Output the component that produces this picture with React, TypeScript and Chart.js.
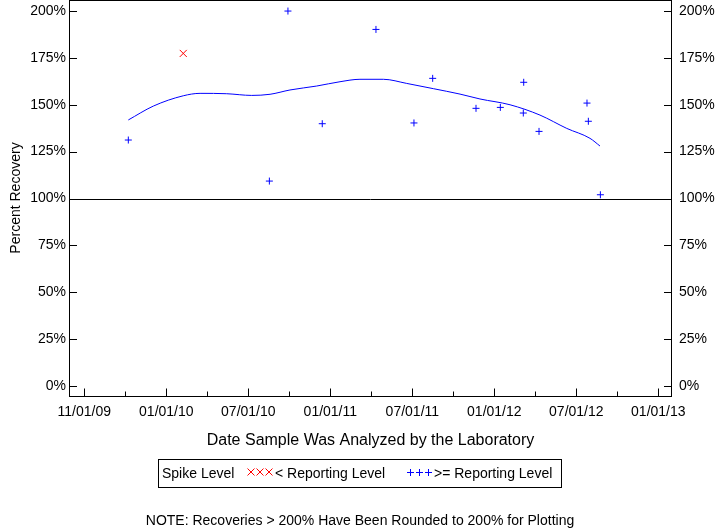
import React, { useEffect, useRef } from 'react';
import { Chart, registerables } from 'chart.js';

Chart.register(...registerables);

// x values are months counted from the first labelled tick
const xTickMonths = [0, 6, 12, 18, 24, 30, 36, 42];
const xTickLabels = ['11/01/09', '01/01/10', '07/01/10', '01/01/11', '07/01/11', '01/01/12', '07/01/12', '01/01/13'];
const xMinorMonths = [3, 9, 15, 21, 27, 33, 39];
const yTicks = [0, 25, 50, 75, 100, 125, 150, 175, 200];

const belowMonths = [7.24];
const belowValues = [177.4];

const aboveMonths = [3.22, 13.54, 14.9, 17.41, 21.34, 24.12, 25.49, 28.66, 30.44, 32.15, 32.12, 33.27, 36.78, 36.88, 37.76];
const aboveValues = [131.2, 109.3, 200, 139.9, 190.2, 140.3, 164.1, 148.1, 148.6, 162.0, 145.6, 135.8, 150.9, 141.2, 102.0];

const trendMonths = [3.22, 5.05, 7.24, 8.47, 10.42, 12.25, 13.59, 15.05, 17.0, 18.71, 20.17, 21.88, 23.59, 25.54, 27.49, 28.95, 31.15, 33.34, 35.3, 37.0, 37.73];
const trendValues = [141.9, 149.3, 154.8, 156.1, 155.9, 155.0, 155.6, 157.9, 160.0, 162.3, 163.6, 163.6, 161.4, 158.6, 155.7, 153.1, 150.0, 144.5, 137.4, 132.1, 128.0];

const FONT = '"Liberation Sans", Arial, sans-serif';

const zeroPad = (s: any) => {
  s.paddingTop = 0;
  s.paddingBottom = 0;
  s.paddingLeft = 0;
  s.paddingRight = 0;
};

const decorPlugin = {
  id: 'decor',
  afterDraw(chart: any) {
    const ctx = chart.ctx as CanvasRenderingContext2D;
    const { left, right, top, bottom } = chart.chartArea;
    const xs = chart.scales.x;
    const ys = chart.scales.y;
    ctx.save();
    ctx.strokeStyle = '#000';
    ctx.lineWidth = 1;
    // frame
    ctx.strokeRect(Math.round(left) + 0.5, Math.round(top) + 0.5, Math.round(right - left) - 1, Math.round(bottom - top) - 1);
    // 100% line
    const y100 = Math.round(ys.getPixelForValue(100)) + 0.5;
    ctx.beginPath();
    ctx.moveTo(left, y100);
    ctx.lineTo(right, y100);
    ctx.stroke();
    // inward ticks
    ctx.beginPath();
    const bl = Math.round(bottom) - 0.5;
    xTickMonths.forEach((m) => {
      const px = Math.round(xs.getPixelForValue(m)) + 0.5;
      ctx.moveTo(px, bl);
      ctx.lineTo(px, bl - 8);
    });
    xMinorMonths.forEach((m) => {
      const px = Math.round(xs.getPixelForValue(m)) + 0.5;
      ctx.moveTo(px, bl);
      ctx.lineTo(px, bl - 5);
    });
    yTicks.forEach((v) => {
      const py = Math.round(ys.getPixelForValue(v)) + 0.5;
      ctx.moveTo(left, py);
      ctx.lineTo(left + 8, py);
      ctx.moveTo(right, py);
      ctx.lineTo(right - 8, py);
    });
    ctx.stroke();

    // axis titles
    ctx.fillStyle = '#000';
    ctx.font = `16px ${FONT}`;
    ctx.textAlign = 'center';
    ctx.textBaseline = 'middle';
    ctx.fillText('Date Sample Was Analyzed by the Laboratory', (left + right) / 2, 441);
    ctx.save();
    ctx.translate(16, 198);
    ctx.rotate(-Math.PI / 2);
    ctx.font = `14px ${FONT}`;
    ctx.fillText('Percent Recovery', 0, 0);
    ctx.restore();

    // legend
    ctx.strokeRect(158.5, 459.5, 403, 28);
    ctx.font = `14px ${FONT}`;
    ctx.textAlign = 'left';
    ctx.fillStyle = '#000';
    ctx.fillText('Spike Level', 162, 474);
    ctx.fillText('< Reporting Level', 275, 474);
    ctx.fillText('>= Reporting Level', 434, 474);
    ctx.strokeStyle = '#FF0000';
    ctx.beginPath();
    [251, 260, 269].forEach((cx) => {
      ctx.moveTo(cx - 3.5, 468.5);
      ctx.lineTo(cx + 3.5, 475.5);
      ctx.moveTo(cx - 3.5, 475.5);
      ctx.lineTo(cx + 3.5, 468.5);
    });
    ctx.stroke();
    ctx.strokeStyle = '#0000FF';
    ctx.beginPath();
    [410.5, 419.5, 428.5].forEach((cx) => {
      ctx.moveTo(cx - 3.5, 472.5);
      ctx.lineTo(cx + 3.5, 472.5);
      ctx.moveTo(cx, 469);
      ctx.lineTo(cx, 476);
    });
    ctx.stroke();

    // note
    ctx.fillStyle = '#000';
    ctx.textAlign = 'center';
    ctx.fillText('NOTE: Recoveries > 200% Have Been Rounded to 200% for Plotting', 360, 521);
    ctx.restore();
  },
};

export default function App() {
  const ref = useRef<HTMLCanvasElement | null>(null);
  useEffect(() => {
    if (!ref.current) return;
    const chart = new Chart(ref.current, {
      type: 'scatter',
      data: {
        datasets: [
          {
            label: 'Trend',
            type: 'line',
            data: trendMonths.map((m, i) => ({ x: m, y: trendValues[i] })),
            borderColor: '#0000FF',
            borderWidth: 1,
            pointRadius: 0,
            cubicInterpolationMode: 'monotone',
            fill: false,
          },
          {
            label: '< Reporting Level',
            data: belowMonths.map((m, i) => ({ x: m, y: belowValues[i] })),
            pointStyle: 'crossRot',
            pointRadius: 5,
            borderColor: '#FF0000',
            borderWidth: 1,
          },
          {
            label: '>= Reporting Level',
            data: aboveMonths.map((m, i) => ({ x: m, y: aboveValues[i] })),
            pointStyle: 'cross',
            pointRadius: 3.5,
            borderColor: '#0000FF',
            borderWidth: 1,
          },
        ],
      } as any,
      options: {
        animation: false,
        responsive: false,
        maintainAspectRatio: false,
        layout: { autoPadding: false, padding: 0 },
        plugins: { legend: { display: false }, tooltip: { enabled: false } },
        scales: {
          x: {
            type: 'linear',
            position: 'bottom',
            min: -1.12,
            max: 43.0,
            afterFit: (s: any) => { s.height = 131; zeroPad(s); },
            afterBuildTicks: (s: any) => { s.ticks = xTickMonths.map((v) => ({ value: v })); },
            grid: { display: false, drawTicks: false },
            border: { display: false },
            ticks: {
              autoSkip: false,
              maxRotation: 0,
              padding: 7,
              color: '#000',
              font: { family: FONT, size: 14 },
              callback: (v: any) => { const i = xTickMonths.indexOf(Number(v)); return i >= 0 ? xTickLabels[i] : ''; },
            },
          },
          y: {
            type: 'linear',
            position: 'left',
            min: -5.9,
            max: 205.9,
            afterFit: (s: any) => { s.width = 69; zeroPad(s); },
            afterBuildTicks: (s: any) => { s.ticks = yTicks.map((v) => ({ value: v })); },
            grid: { display: false, drawTicks: false },
            border: { display: false },
            ticks: { padding: 3, color: '#000', font: { family: FONT, size: 14 }, callback: (v: any) => `${v}%` },
          },
          y2: {
            type: 'linear',
            position: 'right',
            min: -5.9,
            max: 205.9,
            afterFit: (s: any) => { s.width = 48; zeroPad(s); },
            afterBuildTicks: (s: any) => { s.ticks = yTicks.map((v) => ({ value: v })); },
            grid: { display: false, drawTicks: false },
            border: { display: false },
            ticks: { padding: 7, color: '#000', font: { family: FONT, size: 14 }, callback: (v: any) => `${v}%` },
          },
        },
      } as any,
      plugins: [decorPlugin],
    });
    return () => chart.destroy();
  }, []);
  return (
    <div style={{ position: 'absolute', left: 0, top: 0, width: 720, height: 528, background: '#fff' }}>
      <canvas ref={ref} width={720} height={528} style={{ display: 'block', width: 720, height: 528 }} />
    </div>
  );
}
